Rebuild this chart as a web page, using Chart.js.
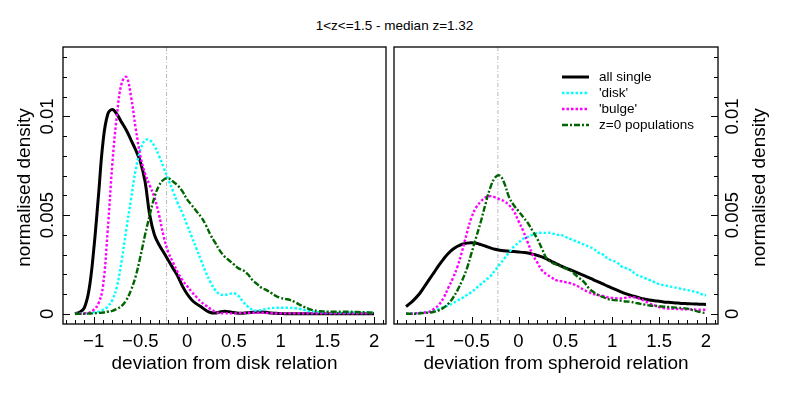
<!DOCTYPE html>
<html>
<head>
<meta charset="utf-8">
<script src="https://cdn.jsdelivr.net/npm/chart.js@4.4.0/dist/chart.umd.min.js"></script>
<style>
  html, body { margin: 0; padding: 0; background: #fff; }
  #wrap { position: relative; width: 789px; height: 395px; overflow: hidden; font-family: "Liberation Sans", Arial, sans-serif; }
  #title { position: absolute; left: 0; top: 18px; width: 789px; text-align: center; font-size: 13.5px; line-height: 16px; color: #000; }
  #left { position: absolute; left: 0; top: 0; }
  #right { position: absolute; left: 392px; top: 0; }
</style>
</head>
<body>
<div id="wrap">
  <div id="title">1&lt;z&lt;=1.5 - median z=1.32</div>
  <canvas id="left" width="392" height="395"></canvas>
  <canvas id="right" width="397" height="395"></canvas>
</div>
<script>
// deviation grid shared by every curve
const devX = [-1.2, -1.15, -1.1, -1.05, -1, -0.95, -0.9, -0.85, -0.8, -0.75,
  -0.7, -0.65, -0.6, -0.55, -0.5, -0.45, -0.4, -0.35, -0.3, -0.25,
  -0.2, -0.15, -0.1, -0.05, 0, 0.05, 0.1, 0.15, 0.2, 0.25,
  0.3, 0.35, 0.4, 0.45, 0.5, 0.55, 0.6, 0.65, 0.7, 0.75,
  0.8, 0.85, 0.9, 0.95, 1, 1.05, 1.1, 1.15, 1.2, 1.25,
  1.3, 1.35, 1.4, 1.45, 1.5, 1.55, 1.6, 1.65, 1.7, 1.75,
  1.8, 1.85, 1.9, 1.95, 2];

// left panel: deviation from disk relation
const diskAll = [0, 0.00008, 0.0003, 0.0012, 0.0032, 0.0059, 0.0087, 0.0101, 0.01035, 0.0101,
  0.0097, 0.0093, 0.0088, 0.0083, 0.0077, 0.0067, 0.0050, 0.0040, 0.0035, 0.0031,
  0.0027, 0.0023, 0.0019, 0.0014, 0.0010, 0.0007, 0.0005, 0.00035, 0.00018, 0.00006,
  0.00004, 0.00009, 0.00012, 0.0001, 0.00006, 0.00003, 0.00003, 0.00005, 0.00008, 0.00009,
  0.00009, 0.00007, 0.00004, 0.00002, 0.00001, 0, 0, 0, 0, 0,
  0, 0, 0, 0, 0, 0, 0, 0, 0, 0,
  0, 0, 0, 0, 0];
const diskDisk = [0, 0.00001, 0.00002, 0.00004, 0.00006, 0.0001, 0.0002, 0.00035, 0.0007, 0.0014,
  0.0027, 0.0043, 0.0058, 0.0073, 0.0083, 0.0088, 0.0088, 0.0085, 0.0080, 0.0074,
  0.0068, 0.0062, 0.0056, 0.0051, 0.0045, 0.0039, 0.0033, 0.0027, 0.0021, 0.0016,
  0.0012, 0.00099, 0.00095, 0.001, 0.00104, 0.0009, 0.0006, 0.00036, 0.0002, 0.00016,
  0.0002, 0.00025, 0.00029, 0.0003, 0.0003, 0.0003, 0.0003, 0.00028, 0.00025, 0.0002,
  0.00014, 0.0001, 0.00008, 0.00007, 0.00007, 0.00006, 0.00006, 0.00006, 0.00006, 0.00006,
  0.00006, 0.00006, 0.00006, 0.00006, 0.00006];
const diskBulge = [0, 0, 0.00002, 0.00005, 0.0002, 0.0005, 0.0014, 0.0042, 0.0076, 0.0101,
  0.0117, 0.0120, 0.0110, 0.0094, 0.0080, 0.0071, 0.0065, 0.0059, 0.0050, 0.0039,
  0.0031, 0.0026, 0.0021, 0.0017, 0.0014, 0.0011, 0.00085, 0.0006, 0.00042, 0.00024,
  0.0001, 0.00003, 0.00002, 0.00002, 0.00002, 0.00003, 0.00004, 0.00005, 0.00005, 0.00005,
  0.00005, 0.00004, 0.00003, 0.00002, 0.00002, 0.00002, 0.00002, 0.00002, 0.00002, 0.00002,
  0.00002, 0.00002, 0.00002, 0.00002, 0.00002, 0.00002, 0.00002, 0.00002, 0.00002, 0.00002,
  0.00002, 0.00002, 0.00002, 0.00002, 0.00002];
const diskZ0 = [0, 0, 0, 0.00001, 0.00002, 0.00004, 0.00006, 0.0001, 0.00015, 0.00025,
  0.0004, 0.0007, 0.0012, 0.0019, 0.0029, 0.0040, 0.0050, 0.0059, 0.0065, 0.0068,
  0.00686, 0.0067, 0.0065, 0.0062, 0.0058, 0.0055, 0.0052, 0.0049, 0.0045, 0.0040,
  0.0036, 0.0032, 0.0029, 0.0027, 0.0025, 0.0023, 0.0022, 0.0020, 0.0017, 0.0015,
  0.0013, 0.0012, 0.00105, 0.0009, 0.0008, 0.00075, 0.0007, 0.0006, 0.00047, 0.00035,
  0.00025, 0.00018, 0.00014, 0.00012, 0.0001, 0.0001, 0.0001, 0.0001, 0.0001, 0.0001,
  0.00009, 0.00008, 0.00007, 0.00006, 0.00005];

// right panel: deviation from spheroid relation
const sphAll = [0.00037, 0.00055, 0.00078, 0.00105, 0.0014, 0.00175, 0.0021, 0.00245, 0.00277, 0.00305,
  0.00327, 0.00342, 0.00352, 0.00358, 0.0036, 0.00357, 0.0035, 0.00342, 0.00334, 0.00327,
  0.00322, 0.00319, 0.00317, 0.00315, 0.00313, 0.00311, 0.00308, 0.00302, 0.00296, 0.00288,
  0.00278, 0.00266, 0.00254, 0.00243, 0.00233, 0.00223, 0.00213, 0.00203, 0.00193, 0.00183,
  0.00172, 0.00162, 0.00151, 0.0014, 0.0013, 0.0012, 0.0011, 0.00101, 0.00093, 0.00086,
  0.00079, 0.00074, 0.0007, 0.00066, 0.00063, 0.0006, 0.00058, 0.00056, 0.00054, 0.00052,
  0.00051, 0.0005, 0.00049, 0.00048, 0.00047];
const sphDisk = [0, 0.00001, 0.00002, 0.00004, 0.00007, 0.0001, 0.00016, 0.00024, 0.00033, 0.00042,
  0.00053, 0.00067, 0.0008, 0.00095, 0.0011, 0.0013, 0.0015, 0.0017, 0.0019, 0.0022,
  0.0025, 0.0028, 0.0031, 0.0034, 0.0036, 0.0038, 0.0039, 0.0040, 0.0041, 0.0041,
  0.0041, 0.0041, 0.0040, 0.0040, 0.0039, 0.0038, 0.0037, 0.0036, 0.0035, 0.0034,
  0.0033, 0.0031, 0.0030, 0.0028, 0.0027, 0.0026, 0.0024, 0.0023, 0.0022, 0.0020,
  0.0019, 0.0018, 0.0017, 0.0016, 0.0015, 0.00145, 0.0014, 0.00135, 0.0013, 0.00125,
  0.0012, 0.00115, 0.0011, 0.001, 0.00093];
const sphBulge = [0, 0, 0.00002, 0.00004, 0.00006, 0.0001, 0.00025, 0.00045, 0.0008, 0.0013,
  0.0018, 0.0024, 0.0032, 0.0041, 0.0049, 0.0054, 0.0057, 0.0059, 0.00596, 0.0059,
  0.0058, 0.0057, 0.0055, 0.0052, 0.0047, 0.0042, 0.0036, 0.0030, 0.0026, 0.0022,
  0.0020, 0.00185, 0.0017, 0.00165, 0.0016, 0.00155, 0.00147, 0.00135, 0.0012, 0.0011,
  0.001, 0.00095, 0.0009, 0.00083, 0.0008, 0.00078, 0.00078, 0.00082, 0.00085, 0.00082,
  0.00074, 0.00063, 0.00052, 0.00042, 0.00034, 0.00029, 0.00026, 0.00025, 0.00024, 0.00023,
  0.00022, 0.00022, 0.00021, 0.0002, 0.0002];
const sphZ0 = [0, 0, 0, 0.00002, 0.00004, 0.00006, 0.0001, 0.00017, 0.0003, 0.0005,
  0.0008, 0.0012, 0.0017, 0.0023, 0.0031, 0.0039, 0.0047, 0.0056, 0.0064, 0.0069,
  0.0070, 0.0066, 0.0059, 0.0055, 0.0052, 0.0049, 0.0046, 0.0042, 0.0038, 0.0033,
  0.0028, 0.0026, 0.0025, 0.0024, 0.0023, 0.0022, 0.0020, 0.0018, 0.0016, 0.0013,
  0.0011, 0.00095, 0.00085, 0.00075, 0.0007, 0.00068, 0.00065, 0.00062, 0.0006, 0.00055,
  0.0005, 0.00046, 0.00042, 0.0004, 0.00038, 0.00036, 0.00034, 0.00032, 0.0003, 0.00028,
  0.00026, 0.0002, 0.00013, 0.00007, 0.00003];

const seriesNames = ['all single', "'disk'", "'bulge'", 'z=0 populations'];
const medianDev = -0.22;
const xMajorTicks = [-1, -0.5, 0, 0.5, 1, 1.5, 2];
const yMajorTicks = [0, 0.005, 0.01];

const FONT = '"Liberation Sans", Arial, Helvetica, sans-serif';

function fmtX(v) {
    return v < 0 ? '\u2212' + Math.abs(v) : String(v);
}

// styles for the four curves, same order as seriesNames
const styles = [
    { color: '#000000', width: 3, dash: [], order: 3 },
    { color: '#00ffff', width: 2.4, dash: [2.5, 2], order: 2 },
    { color: '#ff00ff', width: 2.4, dash: [2.5, 2], order: 1 },
    { color: '#006400', width: 2.4, dash: [6, 2, 2, 2], order: 0 }
];

// box, ticks, rotated y labels, median line, legend (R look)
function panelDecor(side, showLegend) {
    return {
        id: 'panelDecor',
        beforeDatasetsDraw(chart) {
            const ctx = chart.ctx, a = chart.chartArea;
            const px = chart.scales.x.getPixelForValue(medianDev);
            ctx.save();
            ctx.strokeStyle = '#b8b8b8';
            ctx.lineWidth = 1;
            ctx.setLineDash([4, 2, 1, 2]);
            ctx.beginPath();
            ctx.moveTo(px, a.top);
            ctx.lineTo(px, a.bottom);
            ctx.stroke();
            ctx.restore();
        },
        afterDraw(chart) {
            const ctx = chart.ctx, a = chart.chartArea;
            const xs = chart.scales.x, ys = chart.scales.y;
            ctx.save();
            ctx.strokeStyle = '#000';
            ctx.lineWidth = 1.3;
            ctx.strokeRect(a.left, a.top, a.right - a.left, a.bottom - a.top);

            // ticks point inwards: long at labelled values, short every 0.1 / 0.001
            ctx.lineWidth = 1;
            ctx.beginPath();
            for (let k = -13; k <= 21; k++) {
                const len = k % 5 === 0 ? 7 : 4;
                const px = Math.round(xs.getPixelForValue(k / 10)) + 0.5;
                ctx.moveTo(px, a.bottom);
                ctx.lineTo(px, a.bottom - len);
            }
            for (let k = 0; k <= 13; k++) {
                const len = k % 5 === 0 ? 7 : 4;
                const py = Math.round(ys.getPixelForValue(k / 1000)) + 0.5;
                if (side === 'left') {
                    ctx.moveTo(a.left, py);
                    ctx.lineTo(a.left + len, py);
                } else {
                    ctx.moveTo(a.right, py);
                    ctx.lineTo(a.right - len, py);
                }
            }
            ctx.stroke();

            // y tick labels and title, read bottom to top on both sides
            ctx.fillStyle = '#000';
            ctx.textAlign = 'center';
            ctx.textBaseline = 'middle';
            ctx.font = '18.5px ' + FONT;
            const lx = side === 'left' ? a.left - 15 : a.right + 15;
            yMajorTicks.forEach(v => {
                ctx.save();
                ctx.translate(lx, ys.getPixelForValue(v));
                ctx.rotate(-Math.PI / 2);
                ctx.fillText(String(v), 0, 0);
                ctx.restore();
            });
            const tx = side === 'left' ? a.left - 38 : a.right + 42;
            ctx.save();
            ctx.translate(tx, (a.top + a.bottom) / 2 + 2);
            ctx.rotate(-Math.PI / 2);
            ctx.font = '19px ' + FONT;
            ctx.fillText('normalised density', 0, 0);
            ctx.restore();

            if (showLegend) {
                const x0 = a.left + 168, y0 = a.top + 30;
                ctx.font = '13.5px ' + FONT;
                ctx.textAlign = 'left';
                chart.data.datasets.forEach((ds, i) => {
                    const y = y0 + i * 16;
                    ctx.strokeStyle = ds.borderColor;
                    ctx.lineWidth = ds.borderWidth;
                    ctx.setLineDash(ds.borderDash);
                    ctx.beginPath();
                    ctx.moveTo(x0, y);
                    ctx.lineTo(x0 + 27, y);
                    ctx.stroke();
                    ctx.setLineDash([]);
                    ctx.fillText(ds.label, x0 + 37, y);
                });
            }
            ctx.restore();
        }
    };
}

function makePanel(id, side, xTitle, values, showLegend) {
    return new Chart(document.getElementById(id), {
        type: 'line',
        data: {
            datasets: values.map((vals, i) => ({
                label: seriesNames[i],
                data: devX.map((x, j) => ({ x: x, y: vals[j] })),
                borderColor: styles[i].color,
                borderWidth: styles[i].width,
                borderDash: styles[i].dash,
                order: styles[i].order,
                pointRadius: 0,
                fill: false,
                tension: 0.4
            }))
        },
        options: {
            responsive: false,
            animation: false,
            events: [],
            layout: {
                padding: side === 'left'
                    ? { left: 0, top: 47, right: 6, bottom: 0 }
                    : { left: 2, top: 47, right: 0, bottom: 0 }
            },
            plugins: {
                legend: { display: false },
                tooltip: { enabled: false }
            },
            scales: {
                x: {
                    type: 'linear',
                    min: -1.328,
                    max: 2.128,
                    afterBuildTicks: s => { s.ticks = xMajorTicks.map(v => ({ value: v })); },
                    afterFit: s => { s.height = 71; },
                    border: { display: false },
                    grid: { display: false, drawTicks: false },
                    ticks: {
                        padding: 7,
                        color: '#000',
                        maxRotation: 0,
                        font: { family: FONT, size: 18.5 },
                        callback: v => fmtX(v)
                    },
                    title: {
                        display: true,
                        text: xTitle,
                        color: '#000',
                        font: { family: FONT, size: 19 },
                        padding: { top: 0, bottom: 20 }
                    }
                },
                y: {
                    type: 'linear',
                    position: side,
                    min: -0.00052,
                    max: 0.01352,
                    afterBuildTicks: s => { s.ticks = yMajorTicks.map(v => ({ value: v })); },
                    afterFit: s => { s.width = side === 'left' ? 63 : 71; },
                    border: { display: false },
                    grid: { display: false, drawTicks: false },
                    ticks: { display: false }
                }
            }
        },
        plugins: [panelDecor(side, showLegend)]
    });
}

makePanel('left', 'left', 'deviation from disk relation',
    [diskAll, diskDisk, diskBulge, diskZ0], false);
makePanel('right', 'right', 'deviation from spheroid relation',
    [sphAll, sphDisk, sphBulge, sphZ0], true);
</script>
</body>
</html>
